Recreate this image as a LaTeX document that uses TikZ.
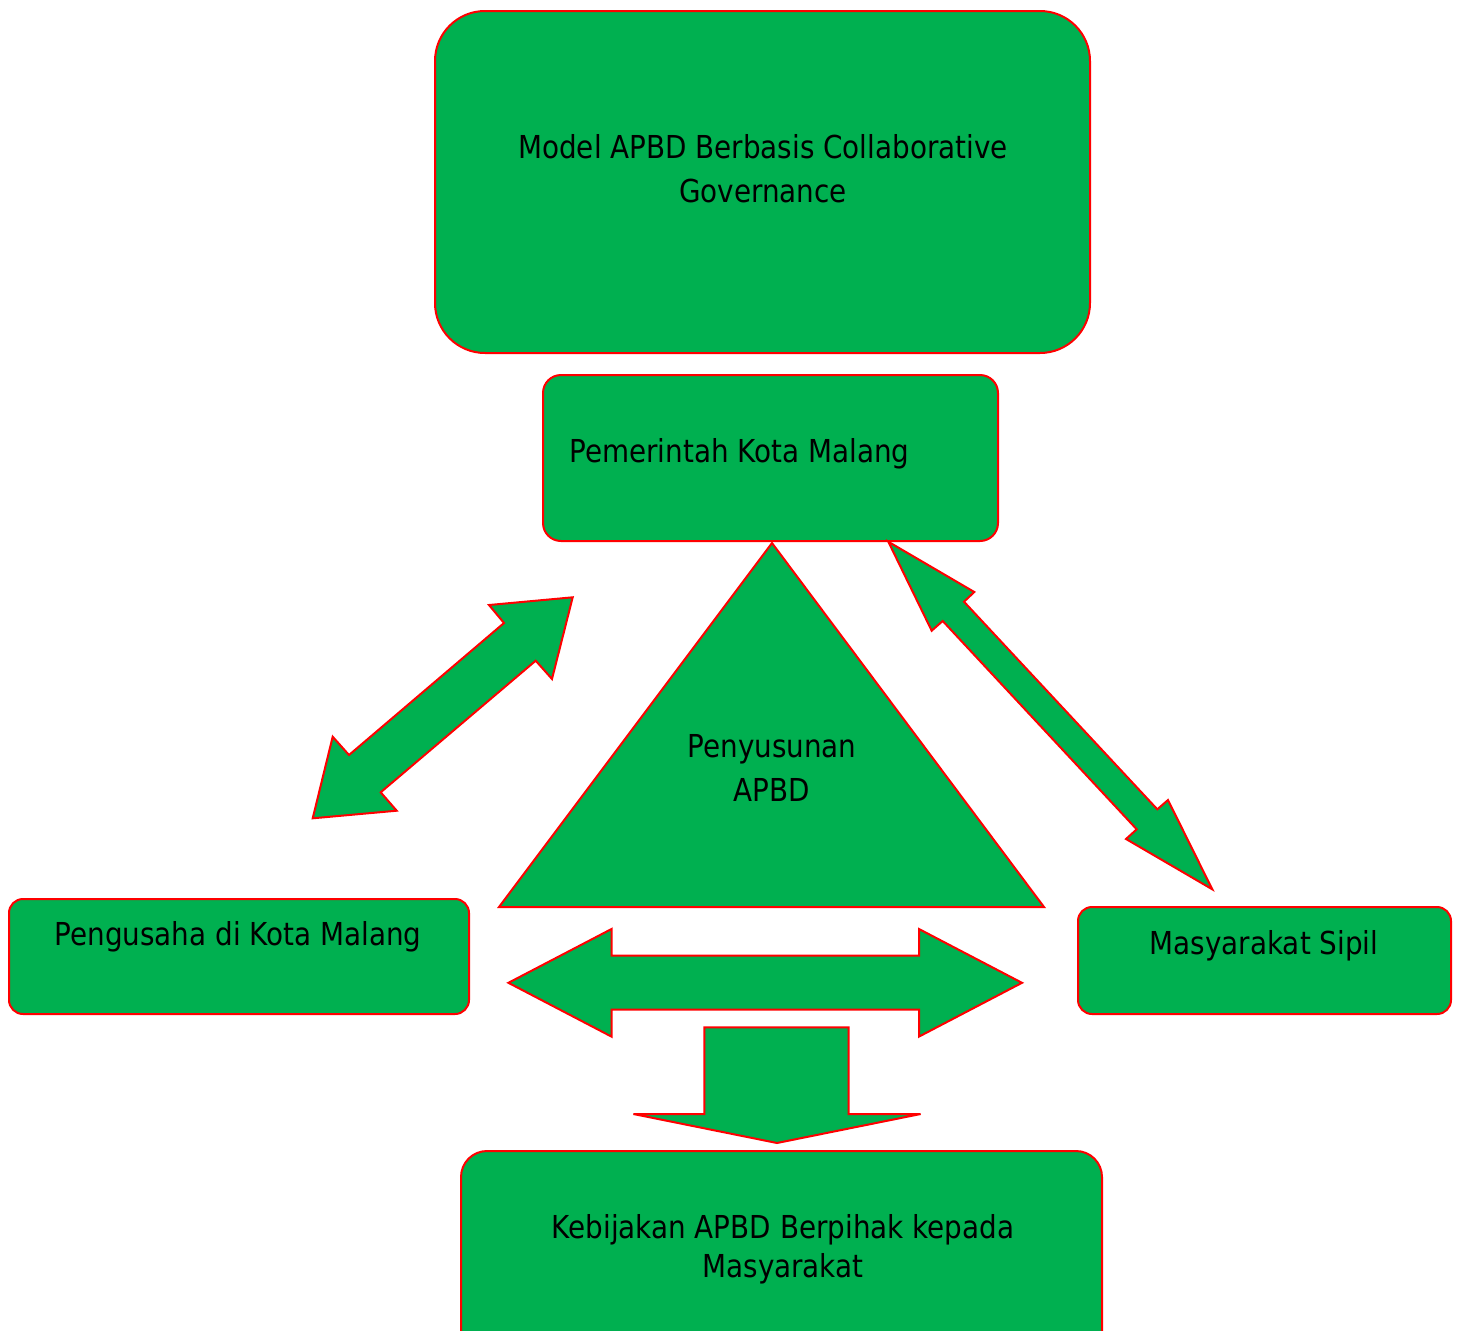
\documentclass[tikz,border=0pt]{standalone}
\usepackage{fontspec}
\setmainfont{DejaVu Sans}[FakeStretch=0.88]
\usetikzlibrary{positioning}
\definecolor{apbdgreen}{RGB}{0,176,80}
\definecolor{apbdred}{RGB}{255,0,0}

\begin{document}
\begin{tikzpicture}[x=0.5pt, y=-0.5pt,
    box/.style={draw=apbdred, fill=apbdgreen, line width=1pt, rounded corners=#1, inner sep=0pt},
    box/.default=7pt,
    blockarrow/.style={draw=apbdred, fill=apbdgreen, line width=1pt, line join=miter},
    boxtext/.style={inner sep=0pt, align=center, font=\fontsize{15.8}{#1}\selectfont},
    boxtext/.default=19.5
  ]
  \useasboundingbox (0,0) rectangle (1458,1330);
  \clip (0,0) rectangle (1458,1330);

  % boxes
  \node[box=25pt, minimum width=327.5pt, minimum height=171pt] (model) at (762.5,182) {};
  \node[box=9pt, minimum width=227.5pt, minimum height=83pt] (pemerintah) at (770.5,458) {};
  \node[box, minimum width=230pt, minimum height=57.5pt] (pengusaha) at (239,956.5) {};
  \node[box, minimum width=186.5pt, minimum height=53.5pt] (masyarakat) at (1264.5,960.5) {};
  \node[box=13pt, minimum width=320.5pt, minimum height=114.5pt] (kebijakan) at (781.5,1265.5) {};

  % triangle
  \draw[blockarrow] (772,543) -- (499,907) -- (1044,907) -- cycle;

  % block arrows
  \draw[blockarrow] (572.7,597.3) -- (489,605) -- (504,623) -- (349,755) -- (332.7,736.7)
    -- (312.7,818.3) -- (396.7,810.7) -- (380.7,792.3) -- (535.7,660.7) -- (552,679) -- cycle;
  \draw[blockarrow] (888.3,541.7) -- (974.3,592) -- (964,601.7) -- (1157.3,809.3) -- (1168,800)
    -- (1212.3,889.3) -- (1126,839) -- (1136.7,829.3) -- (942.7,621) -- (931.7,630.7) -- cycle;
  \draw[blockarrow] (508.4,982.8) -- (611.5,929) -- (611.5,955.5) -- (919,955.5) -- (919,929)
    -- (1022,982.8) -- (919,1036.6) -- (919,1009.5) -- (611.5,1009.5) -- (611.5,1036.6) -- cycle;
  \draw[blockarrow] (704.4,1027.4) -- (848.6,1027.4) -- (848.6,1114) -- (920.6,1114)
    -- (777,1143) -- (633.4,1114) -- (704.4,1114) -- cycle;

  % texts (base = last line)
  \node[boxtext=22, anchor=base] (modeltext) at (763,202) {Model APBD Berbasis Collaborative\\Governance};
  \node[boxtext, anchor=base west] (pemerintahtext) at (569,462) {Pemerintah Kota Malang};
  \node[boxtext=22, anchor=base] (penyusunantext) at (772,801) {Penyusunan\\APBD};
  \node[boxtext, anchor=base] (pengusahatext) at (238,945) {Pengusaha di Kota Malang};
  \node[boxtext, anchor=base] (masyarakattext) at (1264,954) {Masyarakat Sipil};
  \node[boxtext, anchor=base] (kebijakantext) at (783,1277) {Kebijakan APBD Berpihak kepada\\Masyarakat};
\end{tikzpicture}
\end{document}
